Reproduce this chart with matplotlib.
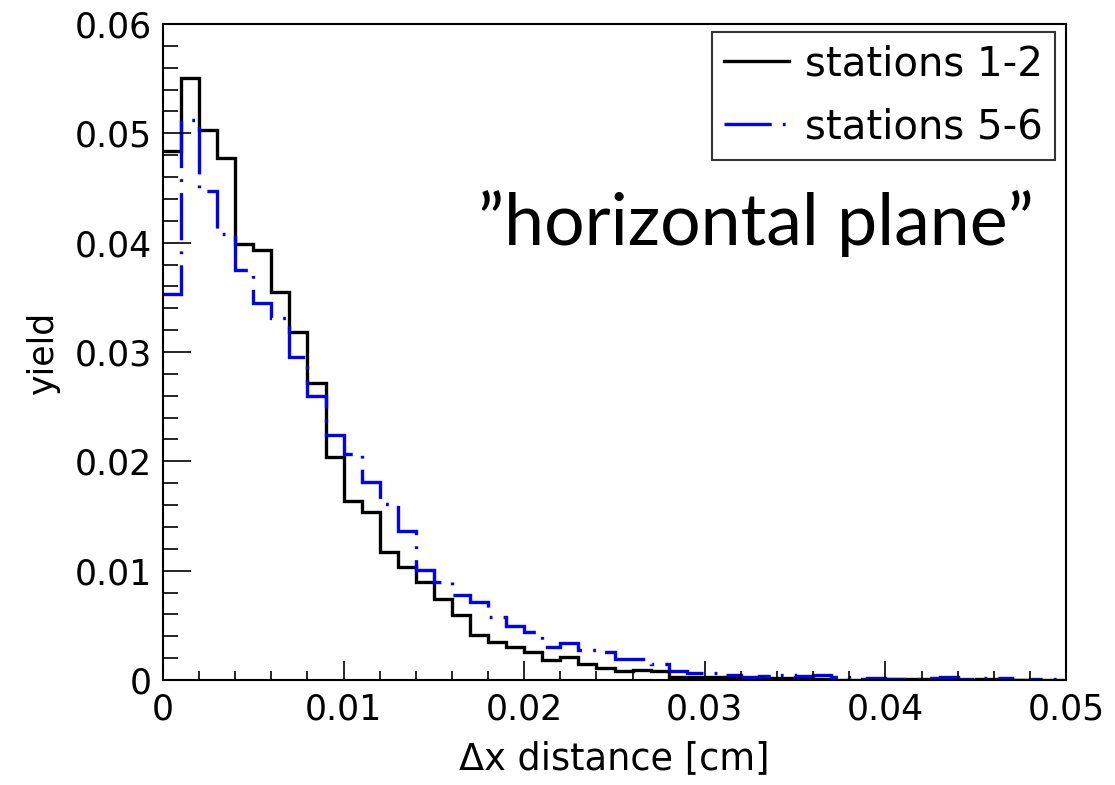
import numpy as np
import matplotlib
matplotlib.use("Agg")
import matplotlib.pyplot as plt

# ---- data ----
x_min, x_max, n_bins = 0.0, 0.05, 50
stations_12 = [0.0484, 0.0551, 0.0503, 0.0477, 0.0399, 0.0393, 0.0355, 0.0318, 0.0272, 0.0204,
               0.0164, 0.0154, 0.0117, 0.0103, 0.0090, 0.0074, 0.0059, 0.0041, 0.0035, 0.0030,
               0.0026, 0.0018, 0.0021, 0.0015, 0.0011, 0.0008, 0.0009, 0.0008, 0.0003, 0.0003,
               0.0003, 0.0003, 0.0002, 0.0002, 0.0002, 0.0002, 0.0001, 0.0000, 0.0000, 0.0001,
               0.0001, 0.0001, 0.0001, 0.0000, 0.0000, 0.0001, 0.0001, 0.0000, 0.0000, 0.0000]
stations_56 = [0.0353, 0.0512, 0.0447, 0.0408, 0.0375, 0.0345, 0.0331, 0.0295, 0.0260, 0.0224,
               0.0207, 0.0181, 0.0161, 0.0136, 0.0101, 0.0090, 0.0078, 0.0071, 0.0058, 0.0049,
               0.0044, 0.0030, 0.0034, 0.0027, 0.0026, 0.0019, 0.0019, 0.0015, 0.0008, 0.0006,
               0.0006, 0.0005, 0.0003, 0.0004, 0.0005, 0.0004, 0.0005, 0.0003, 0.0001, 0.00015,
               0.0001, 0.0001, 0.0002, 0.0003, 0.0001, 0.0002, 0.0002, 0.0000, 0.0001, 0.0001]
labels = ["stations 1-2", "stations 5-6"]
x_ticks = [0, 0.01, 0.02, 0.03, 0.04, 0.05]
x_tick_labels = ["0", "0.01", "0.02", "0.03", "0.04", "0.05"]
y_ticks = [0, 0.01, 0.02, 0.03, 0.04, 0.05, 0.06]
y_tick_labels = ["0", "0.01", "0.02", "0.03", "0.04", "0.05", "0.06"]

plt.rcParams['font.family'] = ['DejaVu Sans']
plt.rcParams['lines.scale_dashes'] = False

fig = plt.figure(figsize=(11.15, 7.85), dpi=100)
ax = fig.add_axes([163/1115, 105/785, 903/1115, 656/785])

edges = np.linspace(x_min, x_max, n_bins + 1)
ax.stairs(stations_12, edges, color='black', lw=2.4, label=labels[0], baseline=None)
ax.stairs(stations_56, edges, color='#0000ff', lw=2.4, label=labels[1], baseline=None,
          linestyle=(0, (34, 8, 2, 8)))

ax.set_xlim(x_min, x_max)
ax.set_ylim(0, 0.06)
ax.set_xticks(x_ticks)
ax.set_xticklabels(x_tick_labels)
ax.set_yticks(y_ticks)
ax.set_yticklabels(y_tick_labels)
ax.set_xticks(np.arange(0, 0.0501, 0.002), minor=True)
ax.set_yticks(np.arange(0, 0.0601, 0.002), minor=True)

ax.tick_params(axis='both', which='both', direction='in', width=1.2, labelsize=25, colors='black')
ax.tick_params(axis='y', which='major', length=20, pad=8)
ax.tick_params(axis='y', which='minor', length=11)
ax.tick_params(axis='x', which='major', length=13.5, pad=9)
ax.tick_params(axis='x', which='minor', length=6.5)
for s in ax.spines.values():
    s.set_linewidth(1.5)

ax.set_xlabel("Δx distance [cm]", fontsize=26.5, labelpad=10)
ax.set_ylabel("yield", fontsize=25)
ax.yaxis.set_label_coords(-0.114, 0.5)

leg = ax.legend(loc='upper right', bbox_to_anchor=(1055/1115, (785-32)/785),
                bbox_transform=fig.transFigure, fontsize=29, frameon=True,
                fancybox=False, edgecolor='black', handlelength=1.6, handletextpad=0.4,
                borderpad=0.3, labelspacing=0.58, borderaxespad=0)
leg.get_frame().set_linewidth(1.5)

ax.text((478-163)/903, (680-245)/656, "\u201dhorizontal plane\u201d", transform=ax.transAxes,
        fontsize=51.6, family=['Lato', 'DejaVu Sans'], va='baseline', ha='left', color='black')

fig.savefig("out.png", dpi=100)
